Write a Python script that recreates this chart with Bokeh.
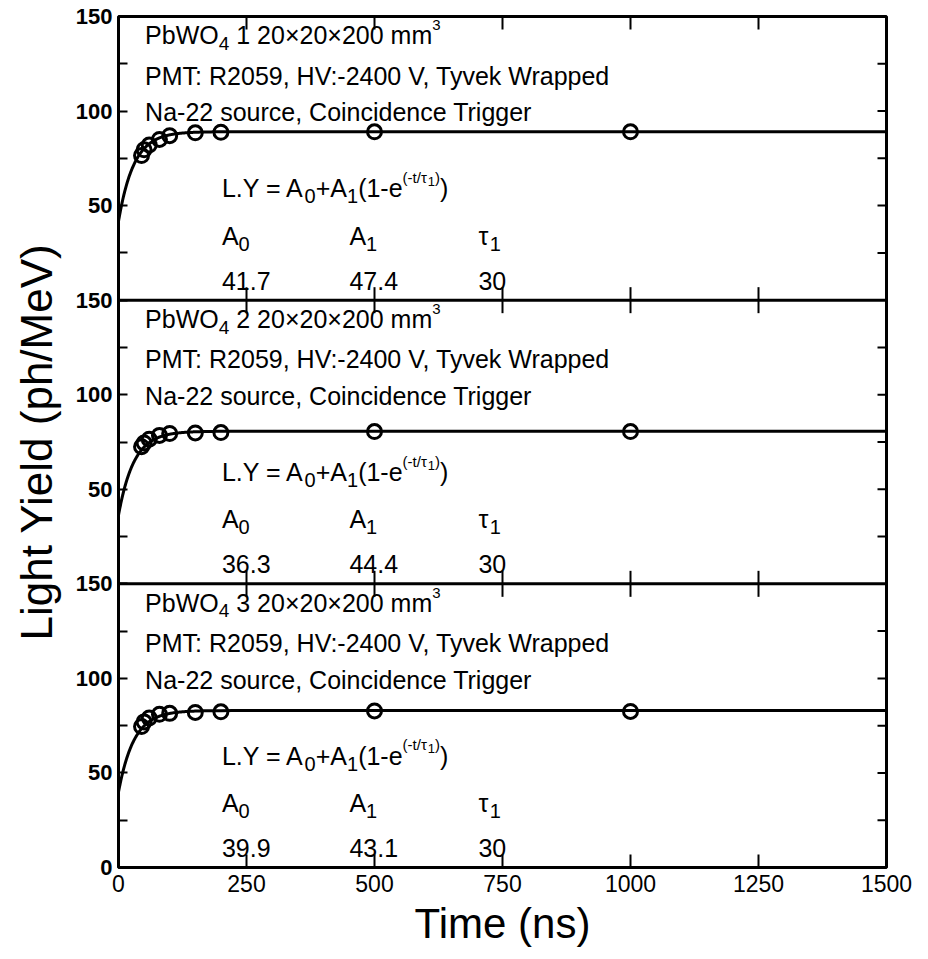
import numpy as np
from bokeh.plotting import figure
from bokeh.models import FixedTicker, Span, ColumnDataSource, Range1d
from bokeh.core.properties import value
from bokeh.embed import file_html
from bokeh.resources import INLINE

# ---------------- data ----------------
t_ns = [45, 50, 60, 80, 100, 150, 200, 500, 1000]
ly_crystal1 = [76.5, 79.5, 82.0, 85.0, 87.0, 88.5, 88.8, 89.0, 89.0]
ly_crystal2 = [72.5, 74.5, 76.5, 78.5, 79.5, 79.8, 80.0, 80.5, 80.5]
ly_crystal3 = [74.5, 77.0, 79.0, 81.0, 81.5, 82.0, 82.3, 82.8, 82.5]
crystal_ids = ["1", "2", "3"]
fit_A0 = [41.7, 36.3, 39.9]
fit_A1 = [47.4, 44.4, 43.1]
fit_tau = [30, 30, 30]
x_ticks = [0, 250, 500, 750, 1000, 1250, 1500]
panel_y_ticks = [0, 50, 100, 150]
panel_y_minor = [25, 75, 125]

series = [ly_crystal1, ly_crystal2, ly_crystal3]

# ---------------- geometry ----------------
W, H = 928, 959
BL, BR, BT, BB = 118, 42, 16, 92
FW, FH = W - BL - BR, H - BT - BB
XMAX, YMAX = 1500, 450
ux = XMAX / FW   # data units per px (x)
uy = YMAX / FH   # data units per px (y)

p = figure(width=W, height=H, output_backend="svg", toolbar_location=None,
           x_range=Range1d(0, XMAX), y_range=Range1d(0, YMAX),
           min_border_left=BL, min_border_right=BR, min_border_top=BT, min_border_bottom=BB,
           background_fill_color="white", border_fill_color="white")
p.grid.visible = False
p.outline_line_color = "black"
p.outline_line_width = 3

ytick_major, ytick_minor, overrides = [], [], {}
for k in range(3):
    off = 150 * k
    for v in panel_y_ticks:
        if v == 0 and k > 0:
            continue
        ytick_major.append(v + off)
        overrides[v + off] = str(v)
    for v in panel_y_minor:
        ytick_minor.append(v + off)
ytick_major = sorted(set(ytick_major))

def style_axis(ax, tick_in):
    ax.axis_line_color = None
    ax.major_tick_in = tick_in
    ax.major_tick_out = 0
    ax.minor_tick_in = tick_in
    ax.minor_tick_out = 0
    ax.major_tick_line_width = 2
    ax.minor_tick_line_width = 2
    ax.major_tick_line_color = "black"
    ax.minor_tick_line_color = "black"

# bottom x axis
xa = p.xaxis[0]
xa.ticker = FixedTicker(ticks=x_ticks, minor_ticks=[])
style_axis(xa, 13)
xa.major_label_text_font = "Liberation Sans"
xa.major_label_text_font_size = "23px"
xa.major_label_text_color = "black"
xa.major_label_standoff = 7
xa.axis_label = "Time (ns)"
xa.axis_label_text_font = "Liberation Sans"
xa.axis_label_text_font_size = "42px"
xa.axis_label_text_font_style = "normal"
xa.axis_label_text_color = "black"
xa.axis_label_standoff = 5

# left y axis
ya = p.yaxis[0]
ya.ticker = FixedTicker(ticks=ytick_major, minor_ticks=ytick_minor)
ya.major_label_overrides = overrides
style_axis(ya, 9)
ya.major_label_text_font = "Liberation Sans"
ya.major_label_text_font_style = "bold"
ya.major_label_text_font_size = "22px"
ya.major_label_text_color = "black"
ya.major_label_standoff = 6
ya.axis_label = "Light Yield (ph/MeV)"
ya.axis_label_text_font = "Liberation Sans"
ya.axis_label_text_font_size = "44px"
ya.axis_label_text_font_style = "normal"
ya.axis_label_text_color = "black"
ya.axis_label_standoff = 12

# right-side, top-side and panel-separator ticks
sx0, sy0, sx1, sy1 = [], [], [], []
for v in ytick_major + ytick_minor:
    if v in (0, 150, 300, 450):
        continue
    sx0.append(XMAX - 9 * ux); sx1.append(XMAX); sy0.append(v); sy1.append(v)
inner_x = [v for v in x_ticks if 0 < v < XMAX]
for v in inner_x:
    sx0.append(v); sx1.append(v); sy0.append(YMAX - 13 * uy); sy1.append(YMAX)
for b in (150, 300):
    for v in inner_x:
        sx0.append(v); sx1.append(v); sy0.append(b - 13 * uy); sy1.append(b + 13 * uy)
p.segment(x0=sx0, y0=sy0, x1=sx1, y1=sy1, line_color="black", line_width=2)

for b in (150, 300):
    p.add_layout(Span(location=b, dimension="width", line_color="black", line_width=3))

# fits and points
t_fit = np.concatenate([np.linspace(0, 200, 300), np.linspace(200, XMAX, 60)[1:]])
for k in range(3):
    off = 300 - 150 * k
    fit = fit_A0[k] + fit_A1[k] * (1 - np.exp(-t_fit / fit_tau[k]))
    p.line(t_fit, fit + off, line_color="black", line_width=3)
    p.scatter(x=t_ns, y=[v + off for v in series[k]], marker="circle", size=14,
              fill_color=None, line_color="black", line_width=3)

# ---------------- rich text ----------------
CW = {' ': .278, '(': .333, ')': .333, '+': .584, ',': .278, '-': .333, '.': .278, '/': .278,
      ':': .278, '=': .584, '×': .584, 'A': .667, 'C': .722, 'H': .722, 'L': .556, 'M': .833,
      'N': .722, 'O': .778, 'P': .667, 'R': .722, 'T': .611, 'V': .667, 'W': .944, 'Y': .667,
      'a': .556, 'b': .556, 'c': .5, 'd': .556, 'e': .556, 'g': .556, 'i': .222, 'k': .5,
      'm': .833, 'n': .556, 'o': .556, 'p': .556, 'r': .333, 's': .5, 't': .278, 'u': .556,
      'v': .5, 'y': .5, 'τ': .45}
def tw(s, size):
    return sum(CW.get(c, .556) for c in s) * size

groups = {}
SHIFT = 10  # px upward correction of baselines
def rich(x0, y0, parts):
    cur = 0.0
    for text, size, dy in parts:
        lead = len(text) - len(text.lstrip(" "))
        cur += tw(" " * lead, size)
        body = text.lstrip(" ")
        g = groups.setdefault(size, dict(x=[], y=[], text=[]))
        g["x"].append(x0 + cur * ux)
        g["y"].append(y0 + (dy + SHIFT) * uy)
        g["text"].append(body)
        cur += tw(body, size)

F = 25
for k in range(3):
    off = 300 - 150 * k
    rich(52, off + 134.7, [("PbWO", F, 0), ("4", 19, -8), (f" {crystal_ids[k]} 20×20×200 mm", F, 0), ("3", 15, 10)])
    rich(52, off + 113.5, [("PMT: R2059, HV:-2400 V, Tyvek Wrapped", F, 0)])
    rich(52, off + 94.0, [("Na-22 source, Coincidence Trigger", F, 0)])
    rich(202, off + 53.8, [("L.Y = A", F, 0), ("0", 20, -8), ("+A", F, 0), ("1", 20, -8), ("(1-e", F, 0),
                           ("(-t/τ", 15, 11), ("1", 13, 7), (")", 15, 11), (")", F, 0)])
    rich(202, off + 28.9, [("A", F, 0), ("0", 20, -8)])
    rich(451, off + 28.9, [("A", F, 0), ("1", 20, -8)])
    rich(703, off + 28.9, [("τ", F, 0), ("1", 20, -8)])
    rich(202, off + 5.1, [(f"{fit_A0[k]:.1f}", F, 0)])
    rich(451, off + 5.1, [(f"{fit_A1[k]:.1f}", F, 0)])
    rich(703, off + 5.1, [(f"{fit_tau[k]}", F, 0)])

for size, g in groups.items():
    p.text(x="x", y="y", text="text", source=ColumnDataSource(g), text_font=value("Liberation Sans"),
           text_font_size=value(f"{size}px"), text_color="black", text_baseline="alphabetic",
           text_align="left")

open("out.html", "w").write(file_html(p, INLINE))
